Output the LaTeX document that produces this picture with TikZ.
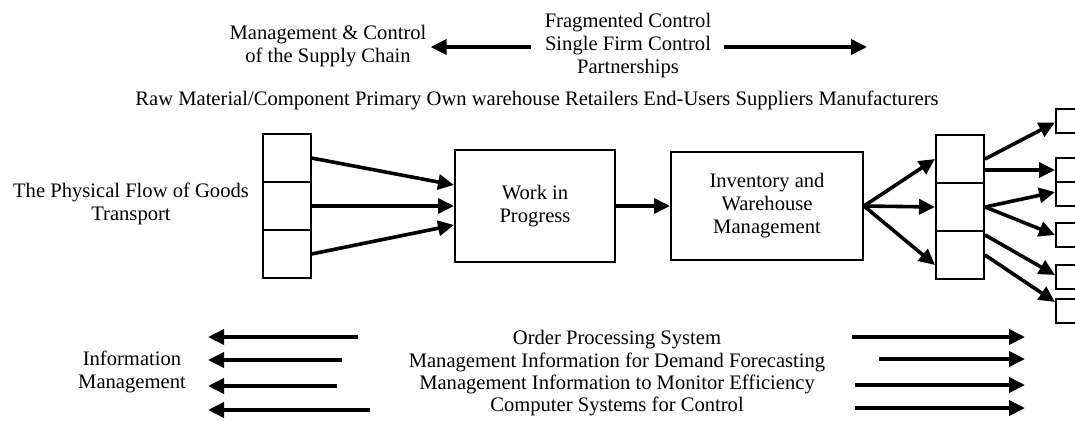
\documentclass[tikz,border=0pt]{standalone}
\usepackage{fontspec}
\setmainfont{Liberation Serif}
\usetikzlibrary{arrows.meta}

\begin{document}
\begin{tikzpicture}[x=1pt,y=-1pt]

\def\stackL{286.5}
\def\stackR{960}
\def\endx{1071}

\tikzstyle{txt}=[align=center,inner sep=0pt,font=\fontsize{20.6}{23}\selectfont]
\tikzstyle{cell}=[rectangle,draw,line width=2pt,minimum width=48pt,minimum height=48pt,inner sep=0pt]
\tikzstyle{stage}=[txt,rectangle,draw,line width=2pt]
\tikzstyle{endbox}=[rectangle,draw,line width=2pt,minimum width=30pt,minimum height=24pt,inner sep=0pt]
\tikzstyle{flow}=[line width=3.6pt,-{Triangle[length=16pt,width=15pt]}]

\useasboundingbox (0,0) rectangle (1075,420);

%control
\node[txt] (mgmt) at (328,46) {Management \& Control\\of the Supply Chain};
\node[txt] (ctrl) at (628,46) {Fragmented Control\\Single Firm Control\\Partnerships};
\coordinate (ctrlend) at (867,47);
\draw[flow] ([xshift=-14pt,yshift=-1pt]ctrl.west) -- ([xshift=4pt,yshift=-1pt]mgmt.east);
\draw[flow] ([xshift=13pt,yshift=-1pt]ctrl.east) -- (ctrlend);

\node[txt] (chain) at (537,100) {Raw Material/Component Primary Own warehouse Retailers End-Users Suppliers Manufacturers};

%physical flow
\node[txt] (phys) at (131,204) {The Physical Flow of Goods\\Transport};

\node[cell] (s1) at (\stackL,158) {};
\node[cell] (s2) at (\stackL,206) {};
\node[cell] (s3) at (\stackL,254) {};

\node[stage,minimum width=160pt,minimum height=112pt] (wip) at (535,206) {Work in\\Progress};
\node[stage,minimum width=192pt,minimum height=108pt] (inv) at (767,206) {Inventory and\\Warehouse\\Management};

\node[cell] (r1) at (\stackR,159) {};
\node[cell] (r2) at (\stackR,207) {};
\node[cell] (r3) at (\stackR,255) {};

\node[endbox] (b1) at (\endx,120.5) {};
\node[endbox] (b2) at (\endx,170) {};
\node[endbox] (b3) at (\endx,194) {};
\node[endbox] (b4) at (\endx,235) {};
\node[endbox] (b5) at (\endx,277) {};
\node[endbox] (b6) at (\endx,311) {};

%connections
\draw[flow] (s1.east) -- ([yshift=21pt]wip.west);
\draw[flow] (s2.east) -- (wip.west);
\draw[flow] (s3.east) -- ([yshift=-19pt]wip.west);

\draw[flow] (wip.east) -- (inv.west);

\draw[flow] (inv.east) -- (r1.west);
\draw[flow] (inv.east) -- (r2.west);
\draw[flow] (inv.east) -- ([yshift=-10pt]r3.west);

\draw[flow] (r1.east) -- ([yshift=-2pt]b1.west);
\draw[flow] ([yshift=-11pt]r1.east) -- (b2.west);
\draw[flow] (r2.east) -- ([yshift=2pt]b3.west);
\draw[flow] (r2.east) -- (b4.west);
\draw[flow] ([yshift=20pt]r3.east) -- ([yshift=2pt]b5.west);
\draw[flow] (r3.east) -- ([yshift=9pt]b6.west);

%information
\node[txt] (info) at (132,372) {Information\\Management};
\node[txt] (ord) at (617,340) {Order Processing System};
\node[txt] (fcst) at (617,362) {Management Information for Demand Forecasting};
\node[txt] (eff) at (617,384) {Management Information to Monitor Efficiency};
\node[txt] (ctl) at (617,406) {Computer Systems for Control};

\coordinate (ordL) at (358,337);
\coordinate (fcstL) at (342,360);
\coordinate (effL) at (337,386);
\coordinate (ctlL) at (370,410);
\coordinate (ordTip) at (208,337);
\coordinate (fcstTip) at (208,360);
\coordinate (effTip) at (208,386);
\coordinate (ctlTip) at (208,410);
\draw[flow] (ordL) -- (ordTip);
\draw[flow] (fcstL) -- (fcstTip);
\draw[flow] (effL) -- (effTip);
\draw[flow] (ctlL) -- (ctlTip);

\coordinate (ordR) at (852,337);
\coordinate (fcstR) at (879,359);
\coordinate (effR) at (855,385);
\coordinate (ctlR) at (855,408);
\coordinate (ordEnd) at (1025,337);
\coordinate (fcstEnd) at (1025,359);
\coordinate (effEnd) at (1025,385);
\coordinate (ctlEnd) at (1025,408);
\draw[flow] (ordR) -- (ordEnd);
\draw[flow] (fcstR) -- (fcstEnd);
\draw[flow] (effR) -- (effEnd);
\draw[flow] (ctlR) -- (ctlEnd);

\end{tikzpicture}
\end{document}
